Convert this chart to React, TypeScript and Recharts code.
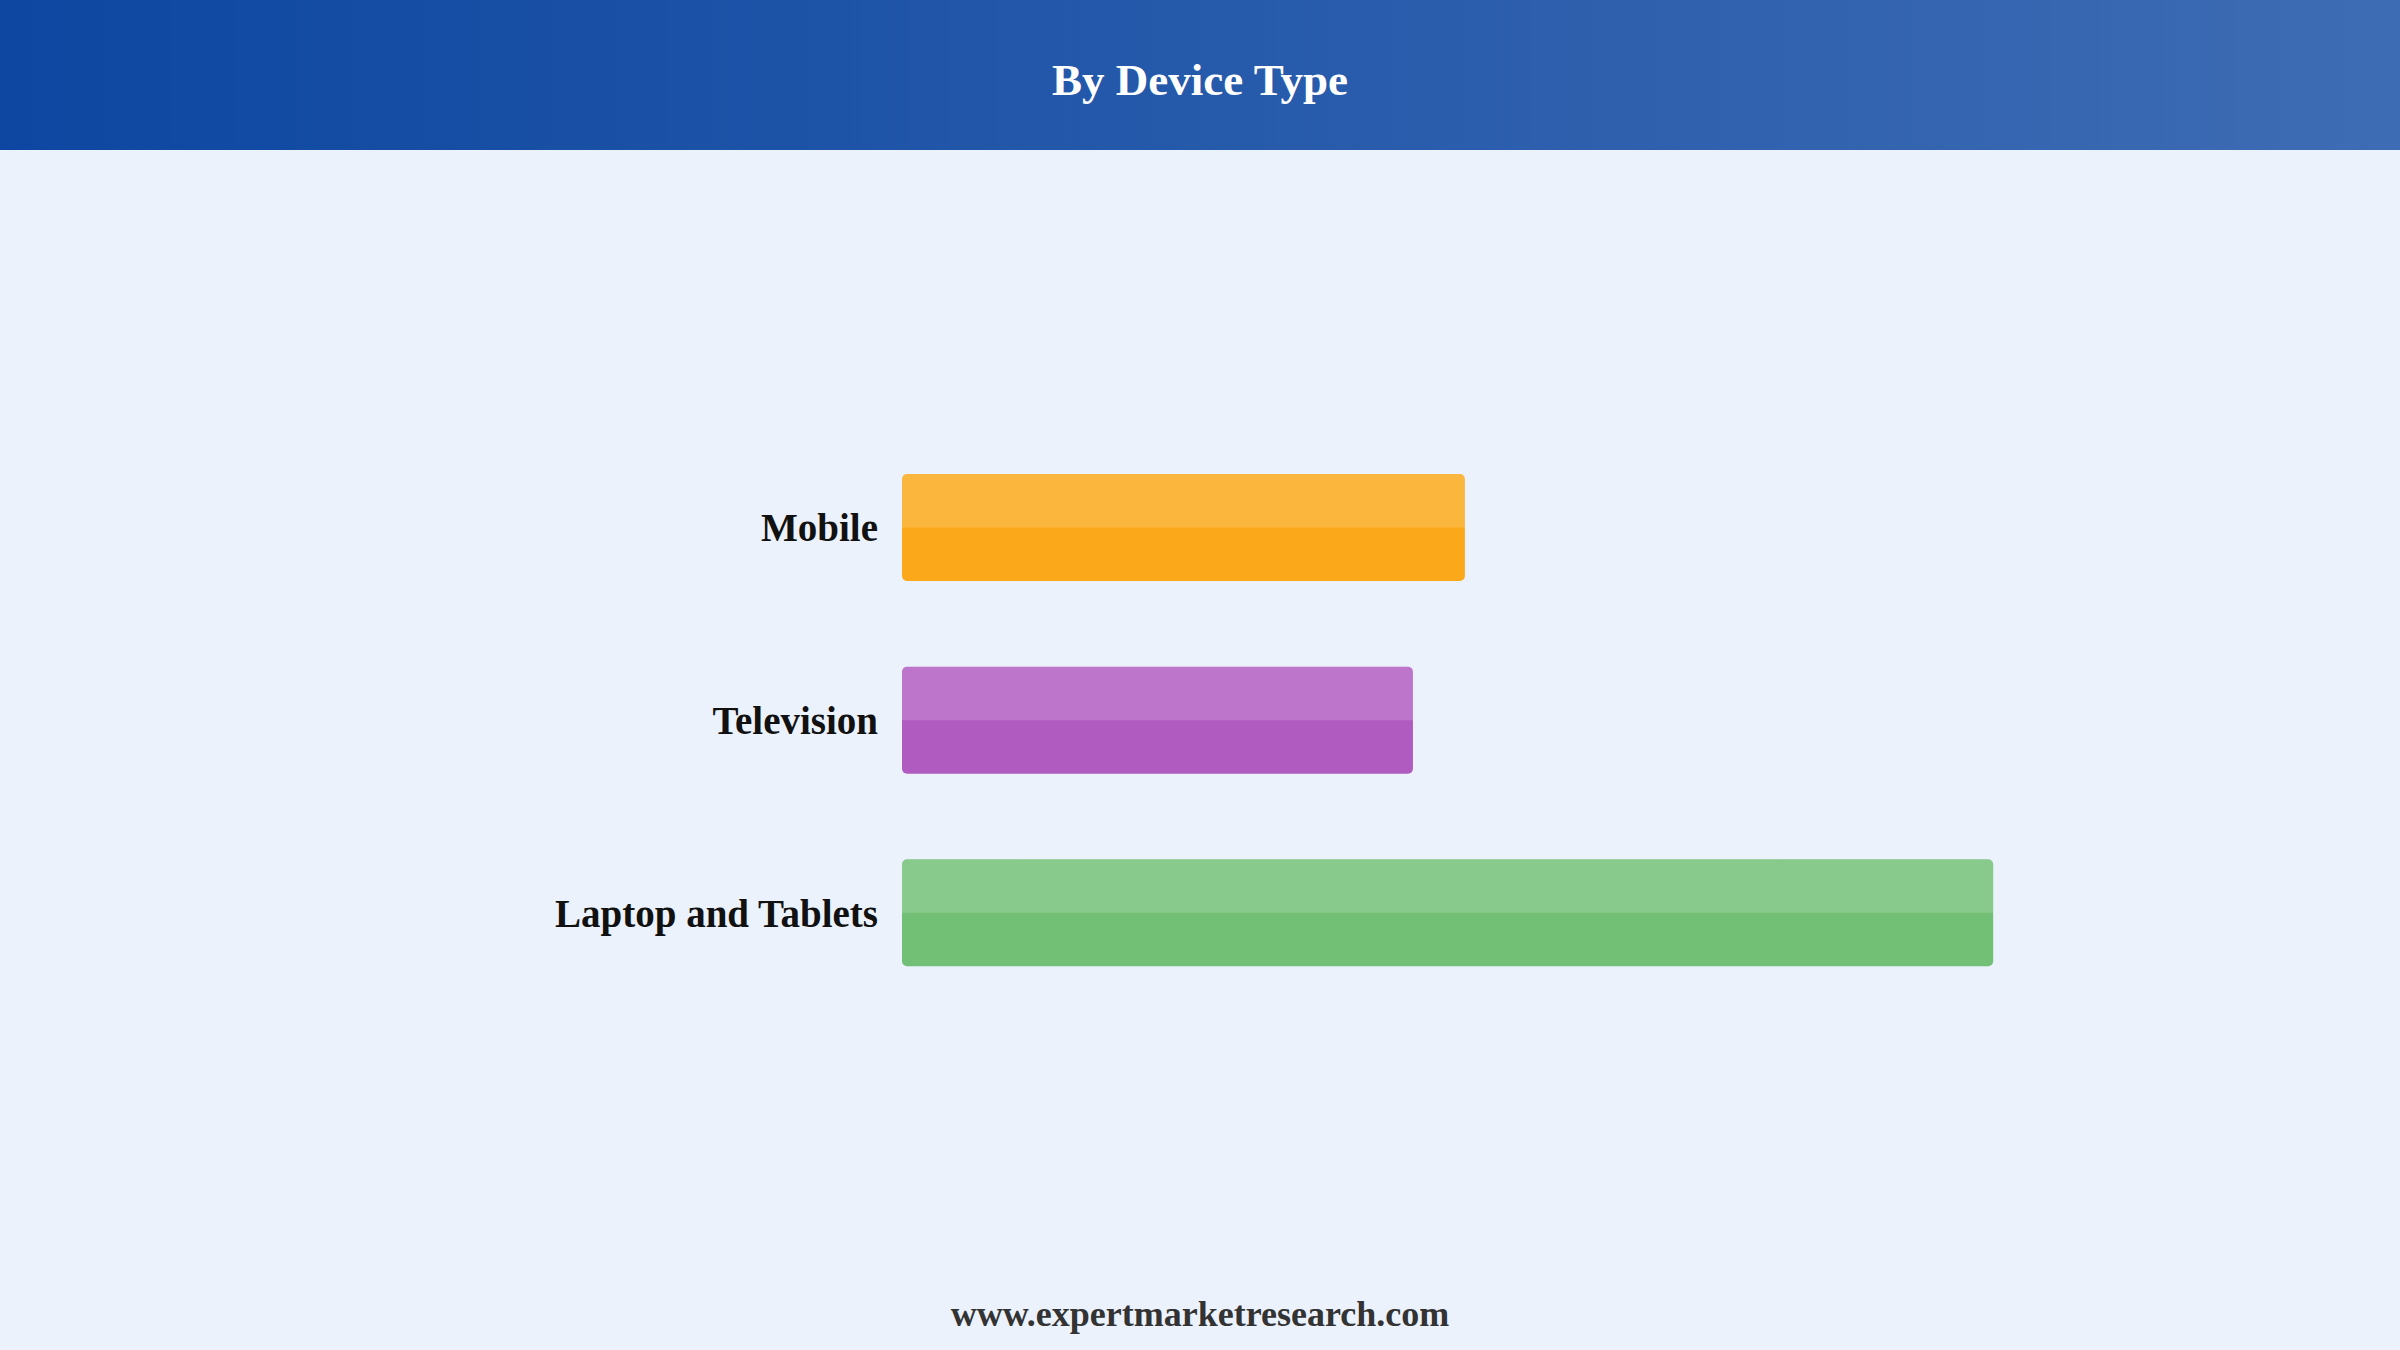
import React from "react";
import { BarChart, Bar, XAxis, YAxis, Cell } from "recharts";

const categories = ["Mobile", "Television", "Laptop and Tablets"];
const shares = [26.0, 23.6, 50.4];
const barColors = ["#FBA91A", "#B05BC0", "#72C076"];

const data = categories.map((device, i) => ({ device, share: shares[i] }));

const serif = "'Liberation Serif', 'Times New Roman', serif";

// rounded bar with a lighter band on its upper half
function GlossBar(props: any) {
  const { x, y, width, height, fill } = props;
  if (!width || width <= 0) return null;
  const r = 5;
  const h2 = height / 2;
  const d = `M${x},${y + h2} L${x},${y + r} Q${x},${y} ${x + r},${y} L${x + width - r},${y} Q${x + width},${y} ${x + width},${y + r} L${x + width},${y + h2} Z`;
  return (
    <g>
      <rect x={x} y={y} width={width} height={height} rx={r} ry={r} fill={fill} />
      <path d={d} fill="#ffffff" fillOpacity={0.16} />
    </g>
  );
}

export default function App() {
  return (
    <div
      style={{
        position: "absolute",
        left: 0,
        top: 0,
        width: 2400,
        height: 1350,
        background: "#EBF2FC",
        overflow: "hidden",
      }}
    >
      <div
        style={{
          position: "absolute",
          left: 0,
          top: 0,
          width: 2400,
          height: 150,
          background: "linear-gradient(90deg, #0D47A1 0%, #3E6CB4 100%)",
        }}
      />
      <div
        style={{
          position: "absolute",
          left: 0,
          top: 58,
          width: 2400,
          textAlign: "center",
          fontFamily: serif,
          fontWeight: "bold",
          fontSize: 45,
          lineHeight: 1,
          color: "#ffffff",
        }}
      >
        By Device Type
      </div>
      <div style={{ position: "absolute", left: 0, top: 0 }}>
        <BarChart
          width={2400}
          height={1350}
          data={data}
          layout="vertical"
          margin={{ top: 431, right: 199, left: 402, bottom: 341 }}
        >
          <XAxis type="number" domain={[0, 60]} hide />
          <YAxis
            type="category"
            dataKey="device"
            width={500}
            axisLine={false}
            tickLine={false}
            tickSize={0}
            tickMargin={24}
            tick={{ fontSize: 39, fontWeight: "bold", fill: "#111111", fontFamily: serif }}
          />
          <Bar dataKey="share" barSize={107} shape={GlossBar} isAnimationActive={false}>
            {data.map((d, i) => (
              <Cell key={d.device} fill={barColors[i]} />
            ))}
          </Bar>
        </BarChart>
      </div>
      <div
        style={{
          position: "absolute",
          left: 0,
          top: 1296,
          width: 2400,
          textAlign: "center",
          fontFamily: serif,
          fontWeight: "bold",
          fontSize: 36,
          lineHeight: 1,
          color: "#333333",
        }}
      >
        www.expertmarketresearch.com
      </div>
    </div>
  );
}
